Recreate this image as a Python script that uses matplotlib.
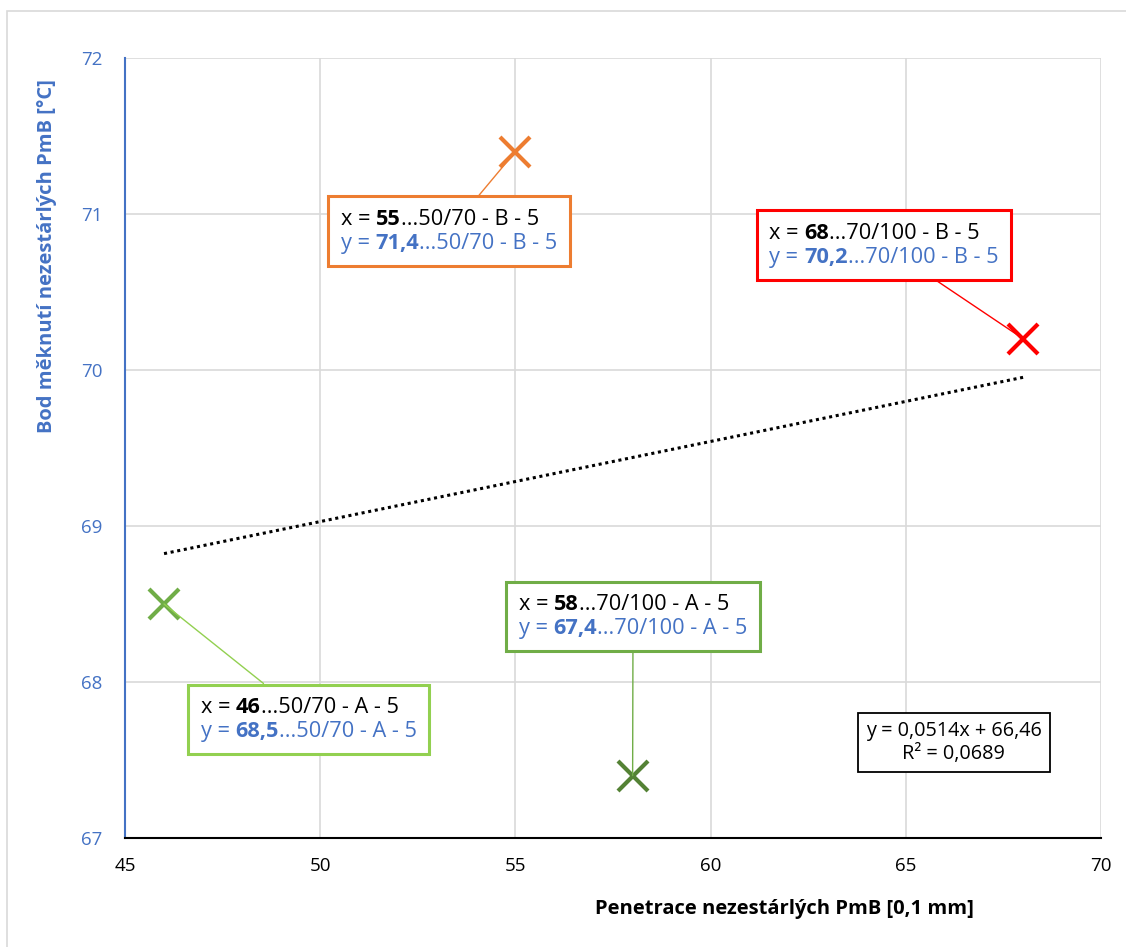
import numpy as np
import matplotlib.pyplot as plt
from matplotlib.offsetbox import TextArea, HPacker, VPacker, AnnotationBbox
from matplotlib.patches import Rectangle

plt.rcParams['font.family'] = ['Open Sans', 'DejaVu Sans']

# data
penetrace = [46, 55, 58, 68]
bod_mekn = [68.5, 71.4, 67.4, 70.2]
oznaceni = ['50/70 - A - 5', '50/70 - B - 5', '70/100 - A - 5', '70/100 - B - 5']
x_txt = ['46', '55', '58', '68']
y_txt = ['68,5', '71,4', '67,4', '70,2']

marker_colors = ['#70AD47', '#ED7D31', '#548235', '#FF0000']
box_colors = ['#92D050', '#ED7D31', '#70AD47', '#FF0000']
# box centres (data coords) - layout only
box_pos = [(49.70, 67.76), (53.30, 70.89), (58.01, 68.42), (64.43, 70.80)]

BLUE = '#4472C4'
FS = 15.7

fig = plt.figure(figsize=(11.26, 9.47), dpi=100)
ax = fig.add_axes([0.111, 0.1151, 0.867, 0.8237])

# outer chart border
fig.patches.append(Rectangle((7 / 1126, -0.01), 1.02, 1 - 11 / 947 + 0.01,
                             transform=fig.transFigure, fill=False,
                             edgecolor='#D9D9D9', lw=1.2))

for xv, yv, c in zip(penetrace, bod_mekn, marker_colors):
    ax.plot(xv, yv, marker='x', ms=22, mew=3, color=c, ls='none', zorder=5)

# linear trend
k, q = np.polyfit(penetrace, bod_mekn, 1)
xt = np.array([min(penetrace), max(penetrace)])
ax.plot(xt, k * xt + q, ls=(0, (1, 1.2)), color='black', lw=2.2, zorder=4)
pred = k * np.array(penetrace) + q
r2 = 1 - np.sum((np.array(bod_mekn) - pred) ** 2) / np.sum((np.array(bod_mekn) - np.mean(bod_mekn)) ** 2)

# data labels
for i in range(len(penetrace)):
    row1 = HPacker(children=[
        TextArea('x = ', textprops=dict(size=FS, color='black')),
        TextArea(x_txt[i], textprops=dict(size=FS, color='black', weight='bold')),
        TextArea('...' + oznaceni[i], textprops=dict(size=FS, color='black')),
    ], pad=0, sep=0)
    row2 = HPacker(children=[
        TextArea('y = ', textprops=dict(size=FS, color=BLUE)),
        TextArea(y_txt[i], textprops=dict(size=FS, color=BLUE, weight='bold')),
        TextArea('...' + oznaceni[i], textprops=dict(size=FS, color=BLUE)),
    ], pad=0, sep=0)
    box = VPacker(children=[row1, row2], pad=9, sep=2, align='left')
    ab = AnnotationBbox(box, (penetrace[i], bod_mekn[i]), xybox=box_pos[i],
                        xycoords='data', boxcoords='data', pad=0,
                        bboxprops=dict(boxstyle='square,pad=0', facecolor='white',
                                       edgecolor=box_colors[i], lw=2.2),
                        arrowprops=dict(arrowstyle='-', color=box_colors[i], lw=1,
                                        shrinkA=0, shrinkB=0))
    ab.set_zorder(6)
    ax.add_artist(ab)

# trend equation
eq = 'y = ' + f'{k:.4f}x + {q:.2f}'.replace('.', ',') + '\nR² = ' + f'{r2:.4f}'.replace('.', ',')
ax.text(66.22, 67.61, eq, ha='center', va='center', fontsize=14.3, linespacing=1.2,
        bbox=dict(boxstyle='square,pad=0.4', facecolor='white', edgecolor='black', lw=1.3),
        zorder=6)

ax.set_xlim(45, 70)
ax.set_ylim(67, 72)
ax.set_xticks(range(45, 71, 5))
ax.set_yticks(range(67, 73))
ax.grid(True, color='#D9D9D9', lw=1.2)
ax.set_axisbelow(True)
ax.tick_params(length=0, labelsize=13.5)
ax.tick_params(axis='y', labelcolor=BLUE, pad=16)
ax.tick_params(axis='x', labelcolor='black', pad=14)
for s in ['top', 'right']:
    ax.spines[s].set_visible(False)
ax.spines['left'].set_color(BLUE)
ax.spines['left'].set_linewidth(1.5)
ax.spines['bottom'].set_color('black')
ax.spines['bottom'].set_linewidth(1.5)

ax.set_xlabel('Penetrace nezestárlých PmB [0,1 mm]', fontsize=14.5, fontweight='bold')
ax.set_ylabel('Bod měknutí nezestárlých PmB [°C]', fontsize=14.5, fontweight='bold', color=BLUE)
ax.xaxis.set_label_coords(0.676, -0.078)
ax.yaxis.set_label_coords(-0.07, 0.746)

plt.savefig('out.png', dpi=100)
